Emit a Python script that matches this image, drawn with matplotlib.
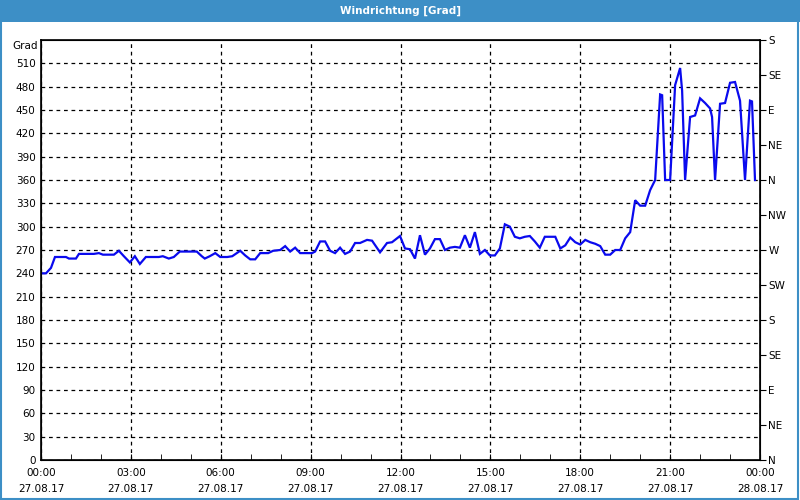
import numpy as np
import matplotlib
matplotlib.use('Agg')
from matplotlib import pyplot as plt
from matplotlib.patches import Rectangle

# minutes since 27.08.17 00:00 and wind direction in degrees
minutes = [0, 10, 20, 28, 50, 56, 70, 76, 106, 116, 124, 146, 156, 166, 178, 188, 198, 210,
           236, 244, 256, 266, 278, 312, 322, 328, 338, 349, 359, 373, 383, 399, 409, 419,
           429, 439, 455, 465, 479, 489, 499, 509, 519, 535, 543, 549, 559, 569, 579, 589,
           599, 609, 619, 629, 639, 653, 663, 679, 693, 703, 719, 729, 739, 749, 759, 769,
           779, 789, 799, 809, 819, 829, 839, 849, 859, 869, 879, 889, 899, 909, 919, 929,
           939, 949, 959, 969, 979, 989, 999, 1009, 1030, 1040, 1050, 1060, 1070, 1080, 1090,
           1100, 1110, 1120, 1130, 1140, 1150, 1160, 1170, 1180, 1190, 1200, 1210, 1220, 1230,
           1240, 1244, 1250, 1260, 1270, 1280, 1284, 1290, 1300, 1310, 1320, 1330, 1340, 1344,
           1350, 1360, 1370, 1380, 1390, 1400, 1410, 1420, 1424, 1430]
grad = [240, 240, 247, 261, 261, 259, 259, 265, 265, 266, 264, 264, 269, 262, 254, 262, 252, 261,
        261, 262, 259, 261, 268, 268, 262, 259, 262, 266, 261, 261, 262, 269, 263, 258,
        258, 266, 266, 269, 270, 275, 268, 273, 266, 266, 266, 268, 281, 281, 269, 266,
        273, 265, 268, 279, 279, 283, 282, 267, 279, 280, 288, 272, 271, 259, 289, 264,
        272, 284, 284, 270, 273, 274, 273, 289, 273, 293, 265, 270, 263, 263, 272, 303,
        300, 287, 285, 287, 288, 281, 273, 287, 287, 272, 276, 286, 280, 277, 283,
        280, 278, 275, 264, 264, 270, 270, 285, 293, 334, 327, 327, 347, 360,
        470, 469, 360, 360, 482, 504, 475, 360, 441, 443, 465, 459, 452, 441,
        360, 458, 459, 485, 486, 462, 360, 462, 461, 360]

x_labels = ['00:00\n27.08.17', '03:00\n27.08.17', '06:00\n27.08.17', '09:00\n27.08.17',
            '12:00\n27.08.17', '15:00\n27.08.17', '18:00\n27.08.17', '21:00\n27.08.17',
            '00:00\n28.08.17']
compass_pos = [0, 45, 90, 135, 180, 225, 270, 315, 360, 405, 450, 495, 540]
compass_lab = ['N', 'NE', 'E', 'SE', 'S', 'SW', 'W', 'NW', 'N', 'NE', 'E', 'SE', 'S']

bar_blue = '#3d8fc6'
fs = 7.5

fig = plt.figure(figsize=(8, 5), dpi=100)
fig.patch.set_facecolor('white')

# title bar and frame
fig.patches.append(Rectangle((0, 1 - 22 / 500), 1, 22 / 500, transform=fig.transFigure,
                             facecolor=bar_blue, edgecolor='none', zorder=0))
fig.patches.append(Rectangle((0.001, 0.002), 0.997, 0.996, transform=fig.transFigure,
                             facecolor='none', edgecolor=bar_blue, lw=1.5, zorder=1))
fig.text(0.5, 1 - 11 / 500, 'Windrichtung [Grad]', color='white', fontsize=fs,
         fontweight='bold', ha='center', va='center')

ax = fig.add_axes([41 / 800, 40 / 500, 719 / 800, 420 / 500])
ax.plot(minutes, grad, color='#0a0aee', lw=1.6, solid_joinstyle='miter')

ax.set_xlim(0, 1440)
ax.set_ylim(0, 540)
ax.set_xticks(np.arange(0, 1441, 180))
ax.set_xticklabels(x_labels, fontsize=fs, linespacing=1.75)
ax.set_xticks(np.arange(0, 1441, 60), minor=True)
ax.set_yticks(np.arange(0, 511, 30))
ax.set_yticklabels([str(v) for v in range(0, 511, 30)], fontsize=fs)
ax.tick_params(axis='x', which='both', direction='in', length=4, pad=6)
ax.tick_params(axis='y', length=0, pad=4)
ax.grid(True, which='major', color='black', linestyle=(0, (3, 3)), lw=0.9)
for s in ax.spines.values():
    s.set_linewidth(1.2)

ax2 = ax.twinx()
ax2.set_ylim(0, 540)
ax2.set_yticks(compass_pos)
ax2.set_yticklabels(compass_lab, fontsize=fs)
ax2.tick_params(axis='y', direction='out', length=4, pad=2)

fig.text(12 / 800, 1 - 46 / 500, 'Grad', fontsize=fs, ha='left', va='center')

plt.savefig('out.png', dpi=100)
plt.close()
